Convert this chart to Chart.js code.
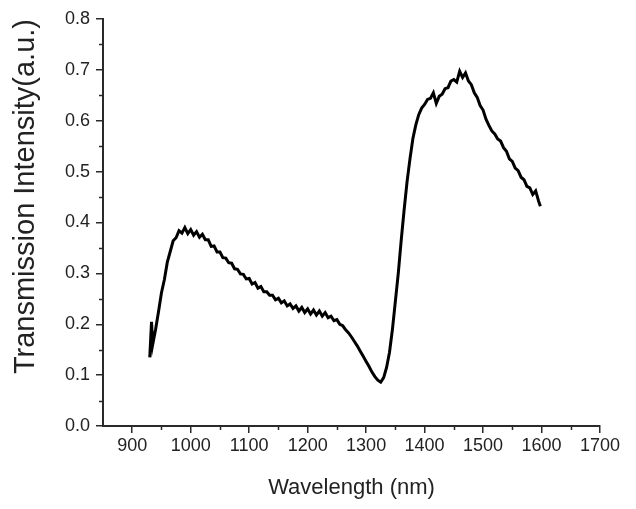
<!DOCTYPE html>
<html>
<head>
<meta charset="utf-8">
<script src="https://cdn.jsdelivr.net/npm/chart.js@4"></script>
<style>
  html, body { margin: 0; padding: 0; background: #fff; }
  #wrap { width: 636px; height: 509px; }
</style>
</head>
<body>
<div id="wrap"><canvas id="c" width="636" height="509"></canvas></div>
<script>
const wavelengths = [930, 933, 935, 940, 945, 950, 955, 960, 965, 970, 975, 980, 985, 990, 995, 1000, 1005, 1010, 1015, 1020, 1025, 1030, 1035, 1040, 1045, 1050, 1055, 1060, 1065, 1070, 1075, 1080, 1085, 1090, 1095, 1100, 1105, 1110, 1115, 1120, 1125, 1130, 1135, 1140, 1145, 1150, 1155, 1160, 1165, 1170, 1175, 1180, 1185, 1190, 1195, 1200, 1205, 1210, 1215, 1220, 1225, 1230, 1235, 1240, 1245, 1250, 1255, 1260, 1265, 1270, 1275, 1280, 1285, 1290, 1295, 1300, 1305, 1310, 1315, 1320, 1325, 1330, 1335, 1340, 1345, 1350, 1355, 1360, 1365, 1370, 1375, 1380, 1385, 1390, 1395, 1400, 1405, 1410, 1415, 1420, 1425, 1430, 1435, 1440, 1445, 1450, 1455, 1460, 1465, 1470, 1475, 1480, 1485, 1490, 1495, 1500, 1505, 1510, 1515, 1520, 1525, 1530, 1535, 1540, 1545, 1550, 1555, 1560, 1565, 1570, 1575, 1580, 1585, 1590, 1595, 1598];
const intensity = [0.135, 0.205, 0.160, 0.190, 0.225, 0.262, 0.288, 0.322, 0.343, 0.364, 0.370, 0.384, 0.379, 0.390, 0.378, 0.386, 0.375, 0.382, 0.371, 0.377, 0.366, 0.366, 0.353, 0.354, 0.342, 0.342, 0.331, 0.330, 0.321, 0.320, 0.309, 0.308, 0.299, 0.298, 0.289, 0.290, 0.279, 0.282, 0.271, 0.274, 0.264, 0.264, 0.257, 0.257, 0.248, 0.251, 0.242, 0.246, 0.236, 0.240, 0.231, 0.236, 0.226, 0.233, 0.223, 0.230, 0.220, 0.228, 0.218, 0.226, 0.216, 0.223, 0.213, 0.216, 0.207, 0.209, 0.200, 0.197, 0.189, 0.183, 0.175, 0.166, 0.157, 0.147, 0.137, 0.127, 0.117, 0.106, 0.097, 0.090, 0.086, 0.095, 0.115, 0.145, 0.190, 0.245, 0.300, 0.365, 0.425, 0.480, 0.525, 0.565, 0.592, 0.612, 0.625, 0.632, 0.642, 0.644, 0.655, 0.634, 0.648, 0.652, 0.663, 0.665, 0.678, 0.681, 0.676, 0.697, 0.685, 0.694, 0.678, 0.671, 0.655, 0.646, 0.630, 0.621, 0.603, 0.591, 0.580, 0.574, 0.564, 0.560, 0.547, 0.540, 0.525, 0.520, 0.507, 0.502, 0.489, 0.484, 0.471, 0.468, 0.455, 0.462, 0.442, 0.432];
const xTicks = [900, 1000, 1100, 1200, 1300, 1400, 1500, 1600, 1700];
const yTicks = [0.0, 0.1, 0.2, 0.3, 0.4, 0.5, 0.6, 0.7, 0.8];
const xMinorTicks = [950, 1050, 1150, 1250, 1350, 1450, 1550, 1650];
const yMinorTicks = [0.05, 0.15, 0.25, 0.35, 0.45, 0.55, 0.65, 0.75];

const points = wavelengths.map((w, i) => ({ x: w, y: intensity[i] }));
const axisColor = '#2a2a2a';
const fontFamily = "'Liberation Sans', Arial, sans-serif";

const minorTicksPlugin = {
  id: 'minorTicks',
  afterDraw(chart) {
    const ctx = chart.ctx;
    const xs = chart.scales.x, ys = chart.scales.y;
    ctx.save();
    ctx.strokeStyle = axisColor;
    ctx.lineWidth = 1.5;
    ctx.beginPath();
    xMinorTicks.forEach(v => {
      const px = Math.round(xs.getPixelForValue(v)) + 0.5;
      ctx.moveTo(px, xs.top);
      ctx.lineTo(px, xs.top + 4);
    });
    yMinorTicks.forEach(v => {
      const py = Math.round(ys.getPixelForValue(v)) + 0.5;
      ctx.moveTo(ys.right, py);
      ctx.lineTo(ys.right - 4, py);
    });
    ctx.stroke();
    ctx.restore();
  }
};

new Chart(document.getElementById('c'), {
  type: 'line',
  data: {
    datasets: [{
      data: points,
      borderColor: '#000',
      borderWidth: 3,
      pointRadius: 0,
      tension: 0,
      fill: false
    }]
  },
  options: {
    responsive: false,
    animation: false,
    layout: { padding: { top: 19, right: 36, left: 0, bottom: 0 } },
    plugins: { legend: { display: false }, tooltip: { enabled: false } },
    scales: {
      x: {
        type: 'linear',
        min: 850, max: 1700,
        afterBuildTicks: s => { s.ticks = xTicks.map(v => ({ value: v })); },
        afterFit: s => { s.height = 83; },
        grid: { drawOnChartArea: false, drawTicks: true, tickLength: 7, color: axisColor, lineWidth: 1.5 },
        border: { display: true, color: axisColor, width: 2 },
        ticks: { color: '#222', font: { family: fontFamily, size: 18 }, padding: 2, maxRotation: 0, autoSkip: false, callback: v => String(v) },
        title: { display: true, text: 'Wavelength (nm)', color: '#222', font: { family: fontFamily, size: 22 }, padding: { top: 0, bottom: 8 } }
      },
      y: {
        type: 'linear',
        min: 0, max: 0.8,
        afterBuildTicks: s => { s.ticks = yTicks.map(v => ({ value: v })); },
        afterFit: s => { s.width = 103; },
        grid: { drawOnChartArea: false, drawTicks: true, tickLength: 7, color: axisColor, lineWidth: 1.5 },
        border: { display: true, color: axisColor, width: 2 },
        ticks: { color: '#222', font: { family: fontFamily, size: 18 }, padding: 6, autoSkip: false, callback: v => v.toFixed(1) },
        title: { display: true, text: 'Transmission Intensity(a.u.)', align: 'end', color: '#222', font: { family: fontFamily, size: 29 }, padding: { top: 9, bottom: 0 } }
      }
    }
  },
  plugins: [minorTicksPlugin]
});
</script>
</body>
</html>
